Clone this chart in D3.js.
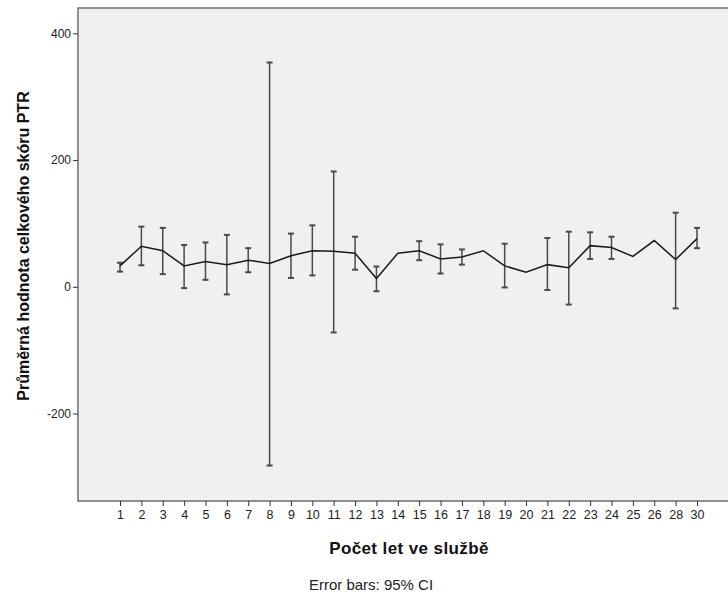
<!DOCTYPE html>
<html>
<head>
<meta charset="utf-8">
<title>Průměrná hodnota celkového skóru PTR</title>
<style>
  body { margin: 0; background: #fff; }
  text { font-family: Arial, 'Liberation Sans', sans-serif; }
</style>
</head>
<body>
<div id="chart"></div>
<script src="https://cdn.jsdelivr.net/npm/d3@7"></script>
<script>
(function(d3) {
  'use strict';

  // roky ve službě (27 a 29 chybí)
  var categories = ['1','2','3','4','5','6','7','8','9','10','11','12','13','14','15',
                    '16','17','18','19','20','21','22','23','24','25','26','28','30'];
  var means = [33, 64, 57, 33, 40, 35, 42, 37, 49, 57, 56, 53, 13, 53, 57,
               44, 47, 57, 33, 23, 35, 30, 65, 62, 48, 73, 43, 76];
  // 95% CI, null = jen jedno pozorování
  var ciLow  = [24, 34, 20, -2, 11, -12, 23, -282, 14, 18, -72, 27, -7, null, 42,
                21, 35, null, -1, null, -5, -28, 44, 44, null, null, -34, 61];
  var ciHigh = [38, 95, 93, 66, 70, 82, 61, 354, 84, 97, 182, 79, 32, null, 72,
                67, 59, null, 68, null, 77, 87, 86, 79, null, null, 117, 93];
  var yTicks = [-200, 0, 200, 400];

  var width = 728, height = 595;
  var left = 78, top = 8, right = 739, bottom = 501;

  var svg = d3.select('#chart').append('svg')
      .attr('width', width)
      .attr('height', height);

  var x = d3.scalePoint()
      .domain(categories)
      .range([120, 697]);
  var y = d3.scaleLinear()
      .domain([-338, 440])
      .range([bottom, top]);

  svg.append('rect')
      .attr('x', left)
      .attr('y', top)
      .attr('width', right - left)
      .attr('height', bottom - top)
      .attr('fill', '#f0f0f0')
      .attr('stroke', '#6e6e6e')
      .attr('stroke-width', 1.5);

  var yAxis = svg.append('g')
      .attr('transform', 'translate(' + left + ',0)')
      .call(d3.axisLeft(y).tickValues(yTicks).tickSize(5).tickPadding(2)
        .tickFormat(function(d) { return String(d); }));
  yAxis.select('.domain').remove();
  yAxis.selectAll('line').attr('stroke', '#333');
  yAxis.selectAll('text').attr('font-size', 12).attr('fill', '#222')
      .attr('font-family', 'Arial, sans-serif');

  var xAxis = svg.append('g')
      .attr('transform', 'translate(0,' + bottom + ')')
      .call(d3.axisBottom(x).tickSize(5).tickPadding(4));
  xAxis.select('.domain').remove();
  xAxis.selectAll('line').attr('stroke', '#333');
  xAxis.selectAll('text').attr('font-size', 12.5).attr('fill', '#222')
      .attr('font-family', 'Arial, sans-serif');

  var data = categories.map(function(c, i) {
    return { cat: c, mean: means[i], lo: ciLow[i], hi: ciHigh[i] };
  });
  var withCI = data.filter(function(d) { return d.lo !== null; });

  var bars = svg.append('g').attr('class', 'errorbars')
      .attr('stroke', '#4a4a4a')
      .attr('stroke-width', 1.5);
  bars.selectAll('.whisker').data(withCI).enter().append('line')
      .attr('x1', function(d) { return x(d.cat); })
      .attr('x2', function(d) { return x(d.cat); })
      .attr('y1', function(d) { return y(d.lo); })
      .attr('y2', function(d) { return y(d.hi); });
  bars.selectAll('.capTop').data(withCI).enter().append('line')
      .attr('x1', function(d) { return x(d.cat) - 3; })
      .attr('x2', function(d) { return x(d.cat) + 3; })
      .attr('y1', function(d) { return y(d.hi); })
      .attr('y2', function(d) { return y(d.hi); })
      .attr('stroke-width', 2);
  bars.selectAll('.capBottom').data(withCI).enter().append('line')
      .attr('x1', function(d) { return x(d.cat) - 3; })
      .attr('x2', function(d) { return x(d.cat) + 3; })
      .attr('y1', function(d) { return y(d.lo); })
      .attr('y2', function(d) { return y(d.lo); })
      .attr('stroke-width', 2);

  var line = d3.line()
      .x(function(d) { return x(d.cat); })
      .y(function(d) { return y(d.mean); });
  svg.append('path')
      .datum(data)
      .attr('d', line)
      .attr('fill', 'none')
      .attr('stroke', '#1a1a1a')
      .attr('stroke-width', 1.5);

  // titulky
  svg.append('text')
      .attr('transform', 'translate(29,246) rotate(-90)')
      .attr('text-anchor', 'middle')
      .attr('font-size', 16)
      .attr('font-weight', 'bold')
      .attr('fill', '#111')
      .text('Průměrná hodnota celkového skóru PTR');

  svg.append('text')
      .attr('x', 409)
      .attr('y', 554)
      .attr('text-anchor', 'middle')
      .attr('font-size', 17)
      .attr('font-weight', 'bold')
      .attr('letter-spacing', 0.4)
      .attr('fill', '#111')
      .text('Počet let ve službě');

  svg.append('text')
      .attr('x', 371)
      .attr('y', 590)
      .attr('text-anchor', 'middle')
      .attr('font-size', 15)
      .attr('fill', '#222')
      .text('Error bars: 95% CI');
})(window.d3);
</script>
</body>
</html>
